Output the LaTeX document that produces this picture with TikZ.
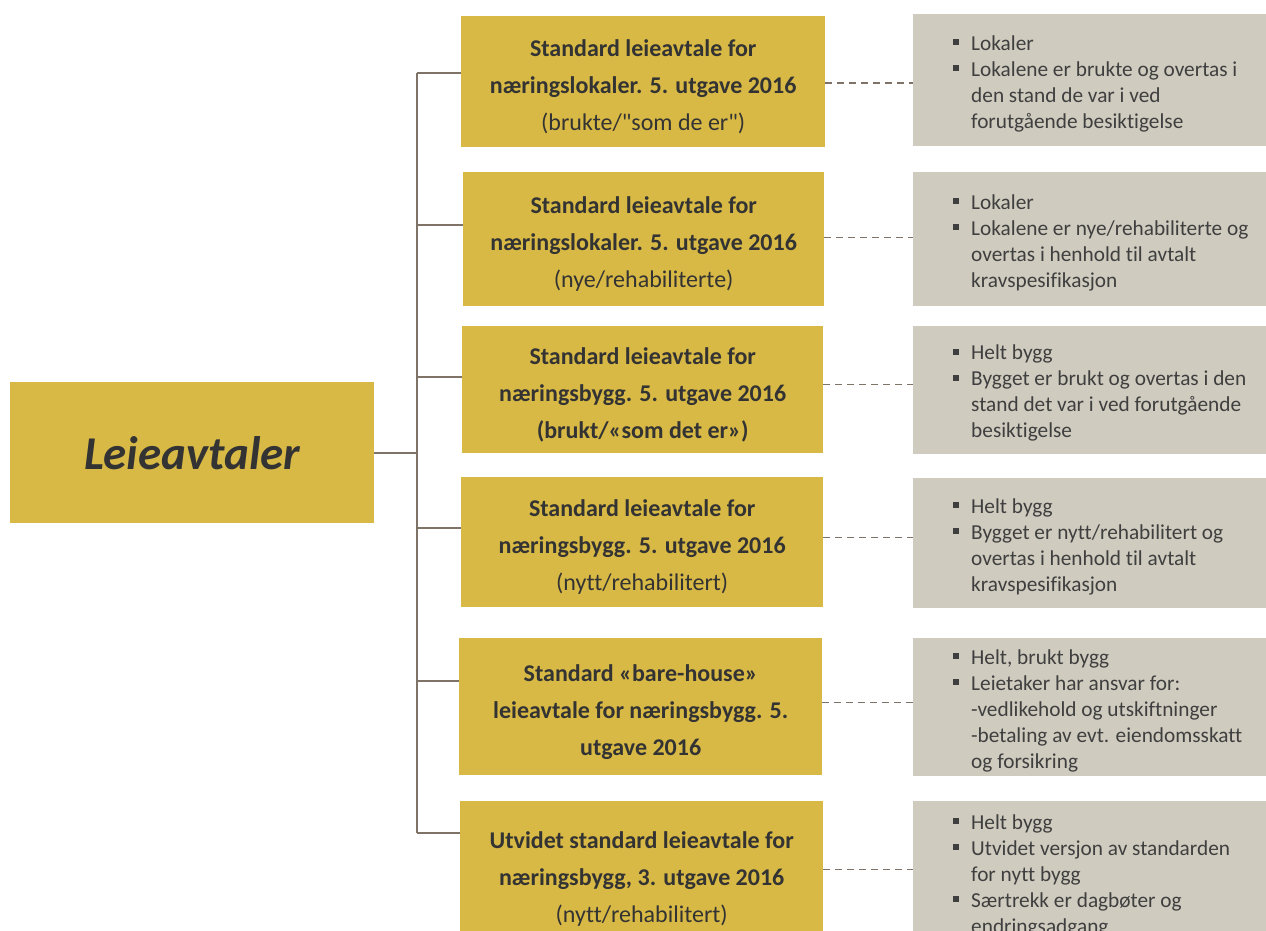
\documentclass[tikz,border=0pt]{standalone}
\usepackage{fontspec}
\setmainfont{Carlito}
\newfontfamily\calib{Carlito}[Ligatures=NoCommon]
\definecolor{gold}{HTML}{D8B945}
\definecolor{pale}{HTML}{CFCBBF}
\definecolor{linec}{HTML}{7F7266}
\definecolor{txt}{HTML}{333333}
\definecolor{txtb}{HTML}{3F3F3F}
\newcommand{\bitem}{\makebox[18pt][l]{\rule[5pt]{6pt}{6pt}}}
\newcommand{\cont}{\hspace*{18pt}}
\newcommand{\tup}{\rule{0pt}{27pt}}
\tikzset{
  goldbox/.style={fill=gold, inner sep=0pt, anchor=north west, text=txt, align=center,
    font=\calib\fontsize{24}{37}\selectfont, minimum width=#1},
  goldbox/.default=362pt,
  palebox/.style={fill=pale, inner sep=0pt, anchor=north west, minimum width=353pt},
  paletext/.style={inner sep=0pt, anchor=west, align=left, text=txtb,
    font=\calib\fontsize{21.3}{26}\selectfont},
  conn/.style={draw=linec, line width=2pt},
  dashconn/.style={draw=linec, line width=1.4pt, dash pattern=on 7pt off 5pt},
}
\begin{document}
\begin{tikzpicture}[x=1pt,y=-1pt]
\useasboundingbox (0,0) rectangle (1266,931);
\clip (0,0) rectangle (1266,931);

% root
\node[fill=gold, inner sep=0pt, anchor=north west, minimum width=364pt, minimum height=141pt,
  text=txt, font=\calib\fontsize{47}{50}\selectfont\bfseries\itshape] (root) at (10,382) {Leieavtaler};

% gold boxes
\node[goldbox=364pt, minimum height=131pt] (b1) at (461,16)
  {\tup\textbf{Standard leieavtale for}\\\textbf{næringslokaler. 5. utgave 2016}\\(brukte/"som de er")};
\node[goldbox=361pt, minimum height=134pt] (b2) at (463,172)
  {\tup\textbf{Standard leieavtale for}\\\textbf{næringslokaler. 5. utgave 2016}\\(nye/rehabiliterte)};
\node[goldbox=361pt, minimum height=127pt] (b3) at (462,326)
  {\tup\textbf{Standard leieavtale for}\\\textbf{næringsbygg. 5. utgave 2016}\\\textbf{(brukt/«som det er»)}};
\node[goldbox=362pt, minimum height=130pt] (b4) at (461,477)
  {\tup\textbf{Standard leieavtale for}\\\textbf{næringsbygg. 5. utgave 2016}\\(nytt/rehabilitert)};
\node[goldbox=363pt, minimum height=137pt] (b5) at (459,638)
  {\tup\textbf{Standard «bare-house»}\\\textbf{leieavtale for næringsbygg. 5.}\\\textbf{utgave 2016}};
\node[goldbox=363pt, minimum height=145pt] (b6) at (460,801)
  {\tup\textbf{Utvidet standard leieavtale for}\\\textbf{næringsbygg, 3. utgave 2016}\\(nytt/rehabilitert)};

% pale boxes
\node[palebox, minimum height=132pt] (g1) at (913,14) {};
\node[palebox, minimum height=134pt] (g2) at (913,172) {};
\node[palebox, minimum height=128pt] (g3) at (913,326) {};
\node[palebox, minimum height=130pt] (g4) at (913,478) {};
\node[palebox, minimum height=138pt] (g5) at (913,638) {};
\node[palebox, minimum height=142pt] (g6) at (913,801) {};

\node[paletext] (p1) at ([xshift=40pt,yshift=-3.5pt]g1.west)
  {\bitem Lokaler\\\bitem Lokalene er brukte og overtas i\\\cont den stand de var i ved\\\cont forutgående besiktigelse};
\node[paletext] (p2) at ([xshift=40pt,yshift=-3.5pt]g2.west)
  {\bitem Lokaler\\\bitem Lokalene er nye/rehabiliterte og\\\cont overtas i henhold til avtalt\\\cont kravspesifikasjon};
\node[paletext] (p3) at ([xshift=40pt,yshift=-3pt]g3.west)
  {\bitem Helt bygg\\\bitem Bygget er brukt og overtas i den\\\cont stand det var i ved forutgående\\\cont besiktigelse};
\node[paletext] (p4) at ([xshift=40pt,yshift=-3.5pt]g4.west)
  {\bitem Helt bygg\\\bitem Bygget er nytt/rehabilitert og\\\cont overtas i henhold til avtalt\\\cont kravspesifikasjon};
\node[paletext] (p5) at ([xshift=40pt,yshift=-3.5pt]g5.west)
  {\bitem Helt, brukt bygg\\\bitem Leietaker har ansvar for:\\\cont -vedlikehold og utskiftninger\\\cont -betaling av evt. eiendomsskatt\\\cont og forsikring};
\node[paletext] (p6) at ([xshift=40pt,yshift=-3.5pt]g6.west)
  {\bitem Helt bygg\\\bitem Utvidet versjon av standarden\\\cont for nytt bygg\\\bitem Særtrekk er dagbøter og\\\cont endringsadgang};

% tree connectors
\coordinate (j0) at (417,453);
\coordinate (t1) at (417,73);
\coordinate (t2) at (417,225);
\coordinate (t3) at (417,377);
\coordinate (t4) at (417,528);
\coordinate (t5) at (417,681);
\coordinate (t6) at (417,833);
\draw[conn] (root.east |- j0) -- (j0);
\draw[conn] (t1) -- (t6);
\foreach \i in {1,...,6} {\draw[conn] (t\i) -- (t\i -| b\i.west);}

% dashed connectors
\draw[dashconn] ([yshift=-1.5pt]b1.east) -- ([yshift=-1.5pt]b1.east -| g1.west);
\draw[dashconn] ([yshift=2pt]b2.east) -- ([yshift=2pt]b2.east -| g2.west);
\draw[dashconn] ([yshift=5pt]b3.east) -- ([yshift=5pt]b3.east -| g3.west);
\draw[dashconn] ([yshift=5pt]b4.east) -- ([yshift=5pt]b4.east -| g4.west);
\draw[dashconn] ([yshift=4.5pt]b5.east) -- ([yshift=4.5pt]b5.east -| g5.west);
\draw[dashconn] ([yshift=4.5pt]b6.east) -- ([yshift=4.5pt]b6.east -| g6.west);
\end{tikzpicture}
\end{document}
